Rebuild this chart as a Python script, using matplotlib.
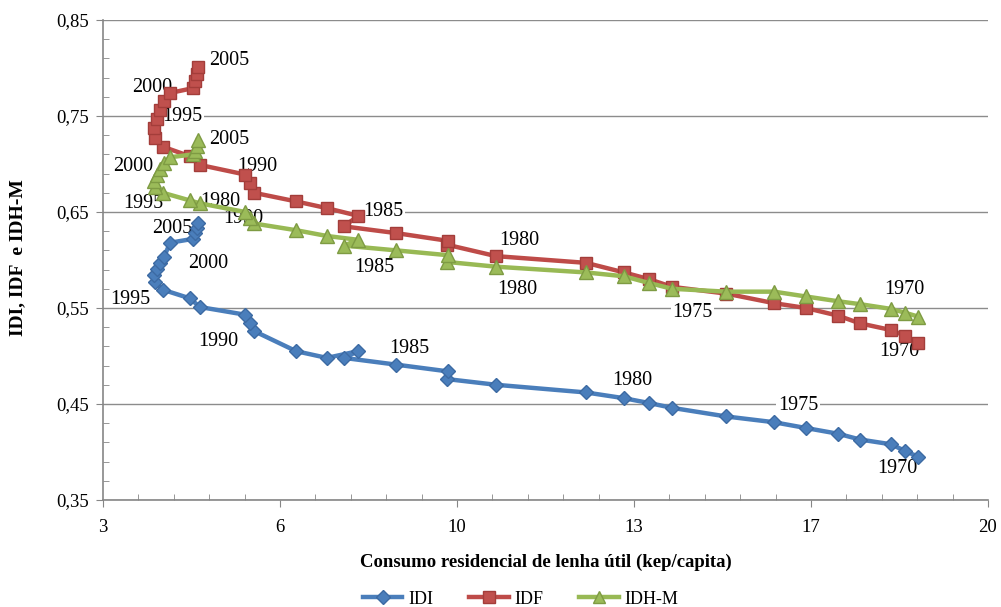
import matplotlib
matplotlib.use('Agg')
import matplotlib.pyplot as plt
from matplotlib.ticker import AutoMinorLocator

plt.rcParams['font.family'] = ['Liberation Serif', 'DejaVu Serif']

# anos 1970 ... 2005
anos = list(range(1970, 2006))

# consumo residencial de lenha util (kep/capita)
consumo = [18.66, 18.41, 18.14, 17.54, 17.12, 16.50, 15.89, 14.97, 13.93, 13.49,
           13.01, 12.28, 10.55, 9.60, 9.62, 8.63, 7.63, 7.90, 7.30, 6.71,
           5.90, 5.82, 5.73, 4.86, 4.67, 4.15, 4.00, 3.98, 4.04, 4.09,
           4.17, 4.29, 4.73, 4.77, 4.81, 4.82]

idi = [0.395, 0.401, 0.408, 0.413, 0.419, 0.425, 0.431, 0.437, 0.446, 0.451,
       0.456, 0.462, 0.470, 0.476, 0.484, 0.491, 0.498, 0.505, 0.498, 0.505,
       0.526, 0.534, 0.543, 0.551, 0.560, 0.569, 0.577, 0.584, 0.591, 0.597,
       0.603, 0.618, 0.622, 0.628, 0.633, 0.639]

idf = [0.514, 0.521, 0.527, 0.534, 0.542, 0.550, 0.555, 0.565, 0.572, 0.580,
       0.587, 0.597, 0.604, 0.616, 0.620, 0.628, 0.635, 0.646, 0.654, 0.661,
       0.670, 0.680, 0.689, 0.699, 0.708, 0.718, 0.727, 0.737, 0.747, 0.756,
       0.766, 0.774, 0.779, 0.786, 0.794, 0.801]

idhm = [0.541, 0.545, 0.549, 0.554, 0.557, 0.562, 0.567, 0.567, 0.570, 0.576,
        0.583, 0.587, 0.593, 0.598, 0.605, 0.610, 0.615, 0.621, 0.625, 0.631,
        0.638, 0.644, 0.650, 0.659, 0.662, 0.670, 0.676, 0.682, 0.688, 0.695,
        0.701, 0.707, 0.710, 0.713, 0.719, 0.725]

x_ticks = [3, 6.4, 9.8, 13.2, 16.6, 20]
x_tick_labels = ['3', '6', '10', '13', '17', '20']
y_ticks = [0.35, 0.45, 0.55, 0.65, 0.75, 0.85]
y_tick_labels = ['0,35', '0,45', '0,55', '0,65', '0,75', '0,85']

# rotulos dos anos: (texto, x, y, fundo branco)
rotulos = [
    ('2005', 5.42, 0.808, False), ('2000', 3.94, 0.780, False), ('1995', 4.52, 0.749, True),
    ('1990', 5.96, 0.697, False), ('1985', 8.38, 0.651, True), ('1980', 10.99, 0.620, False),
    ('1975', 14.32, 0.545, True), ('1970', 18.29, 0.505, False),
    ('2005', 5.42, 0.725, False), ('2000', 3.58, 0.697, False), ('1995', 3.77, 0.659, False),
    ('1980', 5.25, 0.661, False), ('1990', 5.69, 0.643, False), ('1985', 8.21, 0.592, False),
    ('1980', 10.95, 0.569, False), ('1970', 18.39, 0.569, True),
    ('2005', 4.33, 0.633, False), ('2000', 5.02, 0.596, False), ('1995', 3.52, 0.559, False),
    ('1990', 5.21, 0.515, False), ('1985', 8.88, 0.508, False), ('1980', 13.17, 0.474, False),
    ('1975', 16.35, 0.448, True), ('1970', 18.25, 0.383, False),
]

fig = plt.figure(figsize=(10.01, 6.07), dpi=100)
ax = fig.add_axes([0.1029, 0.1763, 0.8841, 0.7908])

ax.plot(consumo, idi, color='#4A7EBB', linewidth=3.2, marker='D', markersize=7.5,
        markerfacecolor='#4A7EBB', markeredgecolor='#3C6AA3', label='IDI')
ax.plot(consumo, idf, color='#BE4B48', linewidth=3.2, marker='s', markersize=9,
        markerfacecolor='#C0504D', markeredgecolor='#A33D3A', label='IDF')
ax.plot(consumo, idhm, color='#98B954', linewidth=3.2, marker='^', markersize=9.5,
        markerfacecolor='#9BBB59', markeredgecolor='#7E9B43', label='IDH-M')

for txt, xv, yv, fundo in rotulos:
    t = ax.text(xv, yv, txt, fontsize=14.5, ha='center', va='center', zorder=1.5)
    if fundo:
        t.set_bbox(dict(facecolor='white', edgecolor='none', pad=1))

ax.set_xlim(3, 20)
ax.set_ylim(0.35, 0.85)
ax.set_xticks(x_ticks)
ax.set_xticklabels(x_tick_labels)
ax.set_yticks(y_ticks)
ax.set_yticklabels(y_tick_labels)
ax.xaxis.set_minor_locator(AutoMinorLocator(5))
ax.yaxis.set_minor_locator(AutoMinorLocator(5))
ax.tick_params(which='major', direction='out', length=5, color='#868686',
               labelsize=13.5, pad=5)
ax.tick_params(which='minor', direction='in', length=4, color='#868686')
ax.tick_params(axis='x', pad=9)

ax.set_axisbelow(True)
ax.grid(axis='y', which='major', color='#8C8C8C', linewidth=1)
for s in ['top', 'right']:
    ax.spines[s].set_visible(False)
for s in ['left', 'bottom']:
    ax.spines[s].set_color('#868686')
    ax.spines[s].set_linewidth(1.2)

fig.text(0.545, 0.073, 'Consumo residencial de lenha útil (kep/capita)',
         ha='center', va='center', fontsize=13.5, fontweight='bold')
fig.text(0.018, 0.575, 'IDI, IDF  e IDH-M', ha='center', va='center',
         rotation=90, fontsize=14, fontweight='bold')

fig.legend(loc='center', bbox_to_anchor=(0.52, 0.013), ncol=3, frameon=False,
           fontsize=13, handlelength=2.2, columnspacing=2.0, handletextpad=0.3,
           markerscale=0.9)

fig.savefig('out.png', dpi=100)
